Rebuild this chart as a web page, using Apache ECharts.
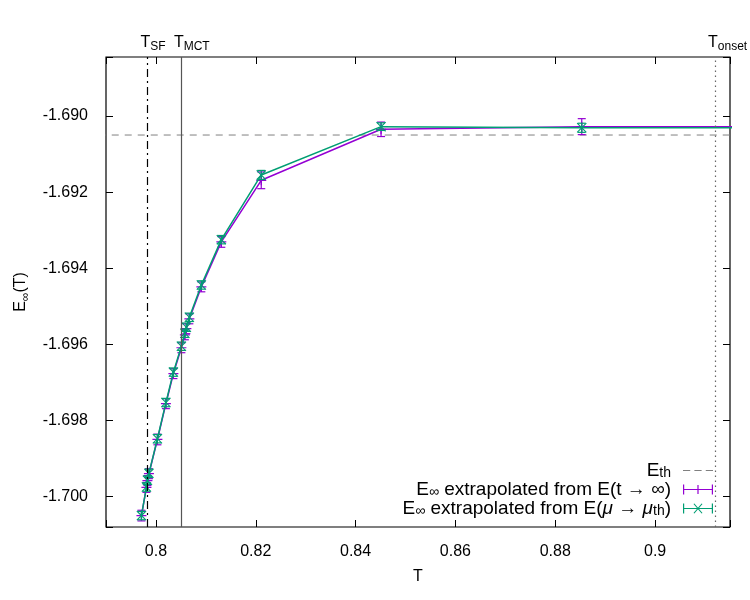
<!DOCTYPE html>
<html>
<head>
<meta charset="utf-8">
<script src="https://cdn.jsdelivr.net/npm/echarts@6/dist/echarts.min.js"></script>
<style>
  html, body { margin: 0; padding: 0; background: #fff; }
  #chart { width: 750px; height: 600px; }
</style>
</head>
<body>
<div id="chart"></div>
<script>
// 温度与外推能量
const temps = [0.7971, 0.7981, 0.7983, 0.7986, 0.8003, 0.8020, 0.8035, 0.8051, 0.8058, 0.8061, 0.8067, 0.8091, 0.8131, 0.8211, 0.8451, 0.8853, 0.93]
const eTime = [-1.70050, -1.69976, -1.69958, -1.69940, -1.69850, -1.69756, -1.69677, -1.69609, -1.69575, -1.69559, -1.69533, -1.69449, -1.69331, -1.69169, -1.69035, -1.69028, -1.69028]
const eTimeErr = [0.00014, 0.00013, 0.00013, 0.00013, 0.00014, 0.00013, 0.00013, 0.00013, 0.00013, 0.00013, 0.00013, 0.00013, 0.00014, 0.00022, 0.00019, 0.00021, 0.00021]
const eMu = [-1.70050, -1.69975, -1.69957, -1.69939, -1.69848, -1.69753, -1.69673, -1.69605, -1.69571, -1.69555, -1.69529, -1.69444, -1.69325, -1.69155, -1.69028, -1.69031, -1.69031]
const eMuErr = [0.00011, 0.00011, 0.00011, 0.00011, 0.00011, 0.00011, 0.00011, 0.00011, 0.00011, 0.00011, 0.00011, 0.00011, 0.00011, 0.00012, 0.00010, 0.00012, 0.00012]

// 参考线
const eTh = -1.6905
const tSF = 0.7983
const tMCT = 0.805
const tOnset = 0.912

const xRange = [0.79, 0.915]
const yRange = [-1.7008, -1.68845]
const xStep = 0.02
const yStep = 0.002

const PURPLE = '#9400d3'
const GREEN = '#009e73'
const FONT = 'Liberation Sans, Arial, sans-serif'

const NAME_TH = 'Eth'
const NAME_T = 'Einf t'
const NAME_MU = 'Einf mu'

const legendText = {
  [NAME_TH]: '{b|E}{s|th}',
  [NAME_T]: '{b|E}{s|∞}{b| extrapolated from E(t → ∞)}',
  [NAME_MU]: '{b|E}{s|∞}{b| extrapolated from E(}{i|μ}{b| → }{i|μ}{s|th}{b|)}',
}

// 下标：行高固定，下标贴底
const richText = (size, lh, subLh) => ({
  b: { fontSize: size, fontFamily: FONT, color: '#000', lineHeight: lh },
  i: { fontSize: size, fontFamily: FONT, color: '#000', lineHeight: lh, fontStyle: 'italic' },
  s: { fontSize: Math.round(size * 0.74), fontFamily: FONT, color: '#000', lineHeight: subLh, verticalAlign: 'bottom' },
})

const onStep = (v, step) => Math.abs(v / step - Math.round(v / step)) < 1e-6

// 误差棒
const errorBars = (color) => (params, api) => {
  const x = api.value(0)
  const lo = api.coord([x, api.value(1)])
  const hi = api.coord([x, api.value(2)])
  const w = 4
  const style = { stroke: color, lineWidth: 1.2 }
  return {
    type: 'group',
    children: [
      { type: 'line', shape: { x1: lo[0], y1: lo[1], x2: hi[0], y2: hi[1] }, style },
      { type: 'line', shape: { x1: lo[0] - w, y1: lo[1], x2: lo[0] + w, y2: lo[1] }, style },
      { type: 'line', shape: { x1: hi[0] - w, y1: hi[1], x2: hi[0] + w, y2: hi[1] }, style },
    ],
  }
}

const plusSymbol = 'path://M4.4,0h1.2v10h-1.2z M0,4.4h10v1.2h-10z'
const crossSymbol = 'path://M0,0.8L0.8,0L10,9.2L9.2,10z M9.2,0L10,0.8L0.8,10L0,9.2z'

const axisBase = {
  type: 'value',
  splitLine: { show: false },
  axisLine: { show: false },
  axisTick: { inside: true, length: 7, lineStyle: { color: '#000', width: 1 } },
}

const chart = echarts.init(document.getElementById('chart'))

const option = {
  animation: false,
  backgroundColor: '#fff',
  textStyle: { fontFamily: FONT },
  grid: {
    left: 106, right: 20, top: 57, bottom: 73,
    show: true, borderColor: '#000', borderWidth: 1.2, backgroundColor: 'transparent',
    containLabel: false, outerBoundsMode: 'none',
  },
  xAxis: [
    {
      ...axisBase,
      min: xRange[0], max: xRange[1], splitNumber: 6, minInterval: xStep, maxInterval: xStep,
      name: 'T', nameLocation: 'middle', nameGap: 42,
      nameTextStyle: { fontSize: 16, color: '#000', fontFamily: FONT },
      axisLabel: {
        margin: 17, fontSize: 16, color: '#000', fontFamily: FONT,
        formatter: (v) => (onStep(v, xStep) ? String(+v.toFixed(2)) : ''),
      },
    },
    {
      ...axisBase, position: 'top',
      min: xRange[0], max: xRange[1], splitNumber: 6, minInterval: xStep, maxInterval: xStep,
      axisLabel: { show: false },
    },
  ],
  yAxis: [
    {
      ...axisBase,
      min: yRange[0], max: yRange[1], splitNumber: 6, minInterval: yStep, maxInterval: yStep,
      name: '{b|E}{s|∞}{b|(T)}', nameLocation: 'middle', nameGap: 74,
      nameTextStyle: { rich: richText(16, 22, 12) },
      axisLabel: {
        margin: 18, fontSize: 16, color: '#000', fontFamily: FONT,
        formatter: (v) => (onStep(v, yStep) ? v.toFixed(3) : ''),
      },
    },
    {
      ...axisBase, position: 'right',
      min: yRange[0], max: yRange[1], splitNumber: 6, minInterval: yStep, maxInterval: yStep,
      axisLabel: { show: false },
    },
  ],
  legend: {
    orient: 'vertical',
    right: 32,
    bottom: 77,
    align: 'right',
    itemWidth: 30,
    itemHeight: 10,
    itemGap: 0,
    selectedMode: false,
    formatter: (name) => legendText[name],
    textStyle: { padding: [0, 7, 0, 0], rich: richText(19, 18.5, 9) },
    data: [
      { name: NAME_TH, icon: 'path://M0,0h7v1.2h-7z M11,0h7v1.2h-7z M22,0h7v1.2h-7z', itemStyle: { color: '#808080' } },
      { name: NAME_T, icon: 'path://M0,0h1.2v10h-1.2z M28.8,0h1.2v10h-1.2z M0,4.4h30v1.2h-30z M14.4,0.5h1.2v9h-1.2z' },
      { name: NAME_MU, icon: 'path://M0,0h1.2v10h-1.2z M28.8,0h1.2v10h-1.2z M0,4.4h30v1.2h-30z M10.5,0.5L11.4,0L19.5,9.5L18.6,10z M18.6,0L19.5,0.5L11.4,10L10.5,9.5z' },
    ],
  },
  series: [
    {
      name: NAME_TH,
      type: 'line',
      data: [[0.7, eTh], [1.0, eTh]],
      symbol: 'none',
      silent: true,
      z: 1,
      itemStyle: { color: '#808080' },
      lineStyle: { color: '#808080', width: 1, type: [7, 6] },
      markLine: {
        silent: true,
        symbol: 'none',
        precision: 6,
        label: { show: false },
        data: [
          { xAxis: tSF, lineStyle: { color: '#000', width: 1.2, type: [8, 4, 2, 4] } },
          { xAxis: tMCT, lineStyle: { color: '#555', width: 1.2, type: 'solid' } },
          { xAxis: tOnset, lineStyle: { color: '#666', width: 1.2, type: [1.5, 3.5] } },
        ],
      },
    },
    {
      name: NAME_T,
      type: 'line',
      data: temps.map((t, i) => [t, eTime[i]]),
      symbol: plusSymbol,
      symbolSize: 10,
      z: 3,
      itemStyle: { color: PURPLE, borderWidth: 0 },
      lineStyle: { color: PURPLE, width: 1.5 },
    },
    {
      name: NAME_T,
      type: 'custom',
      clip: true,
      z: 3,
      renderItem: errorBars(PURPLE),
      encode: { x: 0, y: [1, 2] },
      data: temps.map((t, i) => [t, eTime[i] - eTimeErr[i], eTime[i] + eTimeErr[i]]),
    },
    {
      name: NAME_MU,
      type: 'line',
      data: temps.map((t, i) => [t, eMu[i]]),
      symbol: crossSymbol,
      symbolSize: 10,
      z: 4,
      itemStyle: { color: GREEN, borderWidth: 0 },
      lineStyle: { color: GREEN, width: 1.5 },
    },
    {
      name: NAME_MU,
      type: 'custom',
      clip: true,
      z: 4,
      renderItem: errorBars(GREEN),
      encode: { x: 0, y: [1, 2] },
      data: temps.map((t, i) => [t, eMu[i] - eMuErr[i], eMu[i] + eMuErr[i]]),
    },
  ],
}

chart.setOption(option)

// 顶部的温度标注
const topLabels = [
  [tSF, '{b|T}{s|SF}'],
  [tMCT, '{b|T}{s|MCT}'],
  [tOnset, '{b|T}{s|onset}'],
]
chart.setOption({
  graphic: topLabels.map(([t, text]) => ({
    type: 'text',
    x: chart.convertToPixel({ xAxisIndex: 0 }, t) - 7,
    y: 53,
    style: { text, rich: richText(16, 21, 11), align: 'left', verticalAlign: 'bottom' },
  })),
})
</script>
</body>
</html>
